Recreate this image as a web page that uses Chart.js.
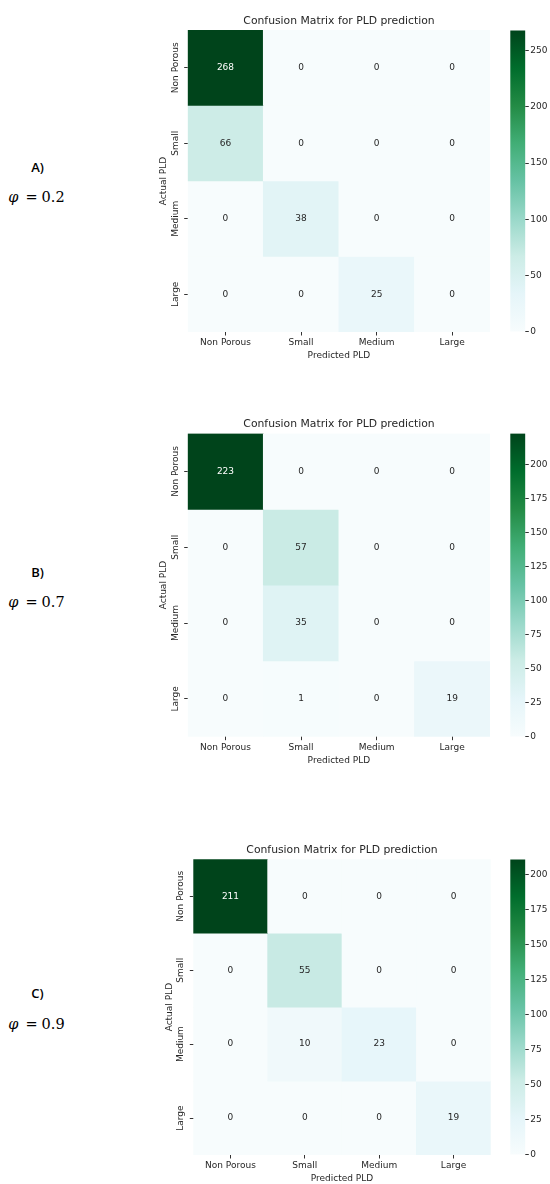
<!DOCTYPE html>
<html>
<head>
<meta charset="utf-8">
<script src="https://cdn.jsdelivr.net/npm/chart.js@4.4.1/dist/chart.umd.min.js"></script>
<style>
  html, body { margin: 0; padding: 0; background: #fff; }
  body { position: relative; width: 550px; height: 1184px; overflow: hidden; }
  canvas { position: absolute; }
  .tag { position: absolute; width: 30px; text-align: center; font-family: "Open Sans", sans-serif; font-weight: 600; font-size: 13px; line-height: 16px; color: #000; }
  .phi { position: absolute; white-space: nowrap; font-family: "DejaVu Serif", serif; font-size: 14.5px; line-height: 16px; color: #000; }
  .phi i { font-style: italic; }
  .phi .eq { display: inline-block; margin: 0 4px 0 7px; }
</style>
</head>
<body>
<script>
// ---- data ----
const predictedLabels = ['Non Porous', 'Small', 'Medium', 'Large'];
const actualLabels = ['Non Porous', 'Small', 'Medium', 'Large'];

const matrixA = [[268, 0, 0, 0], [66, 0, 0, 0], [0, 38, 0, 0], [0, 0, 25, 0]];
const matrixB = [[223, 0, 0, 0], [0, 57, 0, 0], [0, 35, 0, 0], [0, 1, 0, 19]];
const matrixC = [[211, 0, 0, 0], [0, 55, 0, 0], [0, 10, 23, 0], [0, 0, 0, 19]];

const colorbarStepA = 50;
const colorbarStepB = 25;
const colorbarStepC = 25;

const panelTags = ['A)', 'B)', 'C)'];
const phiValues = ['0.2', '0.7', '0.9'];

const chartTitle = 'Confusion Matrix for PLD prediction';
const xTitle = 'Predicted PLD';
const yTitle = 'Actual PLD';

// ---- layout (page pixels) ----
const panels = [
  { matrix: matrixA, step: colorbarStepA, area: { left: 187.7, right: 490, top: 30, bottom: 332 }, tagY: 166.7, phiY: 197 },
  { matrix: matrixB, step: colorbarStepB, area: { left: 187.7, right: 490, top: 433.5, bottom: 736.7 }, tagY: 571.7, phiY: 602 },
  { matrix: matrixC, step: colorbarStepC, area: { left: 193.3, right: 490.7, top: 859.3, bottom: 1155 }, tagY: 993, phiY: 1024 }
];
const CB_LEFT = 510.3, CB_RIGHT = 525.3;

const FONT = "'DejaVu Sans', sans-serif";
const INK = '#262626';
const TICK_INK = '#333';
const TICK_LEN = 3.5;

// BuGn colour ramp
const BUGN = ['#f7fcfd', '#e5f5f9', '#ccece6', '#99d8c9', '#66c2a4', '#41ae76', '#238b45', '#006d2c', '#00441b'];
const hexRgb = h => [1, 3, 5].map(i => parseInt(h.slice(i, i + 2), 16));
function cmapRgb(t) {
  t = Math.max(0, Math.min(1, t));
  const p = t * (BUGN.length - 1);
  const i = Math.min(Math.floor(p), BUGN.length - 2);
  const f = p - i;
  const a = hexRgb(BUGN[i]), b = hexRgb(BUGN[i + 1]);
  return a.map((v, k) => v + (b[k] - v) * f);
}
const rgbStr = c => `rgb(${c.map(v => Math.round(v)).join(',')})`;
function luminance(c) {
  const lin = c.map(v => { v /= 255; return v <= 0.03928 ? v / 12.92 : Math.pow((v + 0.055) / 1.055, 2.4); });
  return 0.2126 * lin[0] + 0.7152 * lin[1] + 0.0722 * lin[2];
}
const crisp = v => Math.round(v - 0.5) + 0.5;

// short tick marks for a scale, placed on the side facing its labels
function drawTickMarks(ctx, scale, side, edge) {
  ctx.save();
  ctx.strokeStyle = TICK_INK;
  ctx.lineWidth = 1;
  ctx.beginPath();
  scale.ticks.forEach((t, i) => {
    const p = crisp(scale.getPixelForTick(i));
    if (side === 'bottom') { ctx.moveTo(p, edge); ctx.lineTo(p, edge + TICK_LEN); }
    else if (side === 'left') { ctx.moveTo(edge - TICK_LEN, p); ctx.lineTo(edge, p); }
    else { ctx.moveTo(edge, p); ctx.lineTo(edge + TICK_LEN, p); }
  });
  ctx.stroke();
  ctx.restore();
}

function makeHeatmap(matrix, area) {
  const vmax = Math.max(...matrix.flat());
  const areaW = area.right - area.left;
  const L = Math.floor(area.left - 40);
  const yW = area.left - L;
  const W = Math.round(2 * yW + areaW);
  const rightW = W - yW - areaW;
  const T = Math.floor(area.top - 32);
  const titleH = area.top - T;
  const H = Math.ceil(area.bottom + 30) - T;
  const xH = H - (area.bottom - T);
  const titleLine = 10.8 * 1.2;
  const tb = 9 - titleLine / 2;
  const tt = titleH - titleLine - tb;

  const cv = document.createElement('canvas');
  cv.width = W; cv.height = H;
  cv.style.left = L + 'px'; cv.style.top = T + 'px';
  cv.style.width = W + 'px'; cv.style.height = H + 'px';
  document.body.appendChild(cv);

  // tick marks and rotated row labels
  const axisDecor = {
    id: 'axisDecor',
    afterDraw(chart) {
      const { ctx, chartArea } = chart;
      const ys = chart.scales.y;
      drawTickMarks(ctx, chart.scales.x, 'bottom', chartArea.bottom);
      drawTickMarks(ctx, ys, 'left', chartArea.left);
      ctx.save();
      ctx.font = `9px ${FONT}`;
      ctx.fillStyle = INK;
      ctx.textAlign = 'center';
      ctx.textBaseline = 'middle';
      actualLabels.forEach((lab, i) => {
        ctx.save();
        ctx.translate(chartArea.left - 12.5, ys.getPixelForValue(i + 0.5));
        ctx.rotate(-Math.PI / 2);
        ctx.fillText(lab, 0, 0);
        ctx.restore();
      });
      ctx.restore();
    }
  };

  // value annotation in each cell
  const cellText = {
    id: 'cellText',
    afterDatasetsDraw(chart) {
      const { ctx } = chart;
      ctx.save();
      ctx.font = `9px ${FONT}`;
      ctx.textAlign = 'center';
      ctx.textBaseline = 'middle';
      matrix.forEach((row, r) => {
        const meta = chart.getDatasetMeta(r);
        meta.data.forEach((el, c) => {
          const v = row[c];
          const { x, y, base } = el.getProps(['x', 'y', 'base'], true);
          ctx.fillStyle = luminance(cmapRgb(v / vmax)) > 0.408 ? INK : '#ffffff';
          ctx.fillText(String(v), x, (y + base) / 2);
        });
      });
      ctx.restore();
    }
  };

  new Chart(cv, {
    type: 'bar',
    data: {
      labels: predictedLabels,
      datasets: matrix.map((row, r) => ({
        label: actualLabels[r],
        data: row.map(() => [r, r + 1]),
        backgroundColor: row.map(v => rgbStr(cmapRgb(v / vmax))),
        borderWidth: 0,
        barPercentage: 1,
        categoryPercentage: 1,
        grouped: false
      }))
    },
    options: {
      responsive: false,
      animation: false,
      devicePixelRatio: 1,
      layout: { padding: 0 },
      plugins: {
        legend: { display: false },
        tooltip: { enabled: false },
        title: {
          display: true, text: chartTitle, color: INK,
          font: { family: FONT, size: 10.8, weight: 'normal', lineHeight: 1.2 },
          padding: { top: tt, bottom: tb }
        }
      },
      scales: {
        x: {
          type: 'category', position: 'bottom', offset: true,
          grid: { display: false, drawTicks: false }, border: { display: false },
          ticks: { font: { family: FONT, size: 9 }, color: INK, padding: 5.5, minRotation: 0, maxRotation: 0, autoSkip: false },
          title: { display: true, text: xTitle, color: INK, font: { family: FONT, size: 9 }, padding: { top: 0, bottom: 1.3 } },
          afterFit: s => { s.height = xH; }
        },
        y: {
          type: 'linear', position: 'left', min: 0, max: 4, reverse: true,
          afterBuildTicks: s => { s.ticks = actualLabels.map((_, i) => ({ value: i + 0.5 })); },
          grid: { display: false, drawTicks: false }, border: { display: false },
          ticks: { display: false },
          title: { display: true, text: yTitle, color: INK, font: { family: FONT, size: 9 }, padding: { top: yW - 24 - 5.4, bottom: 0 } },
          afterFit: s => { s.width = yW; }
        },
        pad: {
          type: 'linear', position: 'right', display: true,
          grid: { display: false }, ticks: { display: false }, border: { display: false },
          afterFit: s => { s.width = rightW; }
        }
      }
    },
    plugins: [axisDecor, cellText]
  });
  return vmax;
}

function makeColorbar(vmax, step, area) {
  const CL = 500, CW = 50;
  const CT = Math.floor(area.top - 10);
  const CH = Math.ceil(area.bottom + 10) - CT;
  const cv = document.createElement('canvas');
  cv.width = CW; cv.height = CH;
  cv.style.left = CL + 'px'; cv.style.top = CT + 'px';
  cv.style.width = CW + 'px'; cv.style.height = CH + 'px';
  document.body.appendChild(cv);

  const cbTicks = {
    id: 'cbTicks',
    afterDraw(chart) { drawTickMarks(chart.ctx, chart.scales.y, 'right', chart.chartArea.right); }
  };

  new Chart(cv, {
    type: 'bar',
    data: {
      labels: [''],
      datasets: [{
        data: [[0, vmax]],
        borderWidth: 0,
        barPercentage: 1,
        categoryPercentage: 1,
        backgroundColor: c => {
          const a = c.chart.chartArea;
          if (!a) return BUGN[4];
          const g = c.chart.ctx.createLinearGradient(0, a.bottom, 0, a.top);
          BUGN.forEach((col, k) => g.addColorStop(k / (BUGN.length - 1), col));
          return g;
        }
      }]
    },
    options: {
      responsive: false,
      animation: false,
      devicePixelRatio: 1,
      layout: { padding: { left: CB_LEFT - CL, right: 0, top: area.top - CT, bottom: CT + CH - area.bottom } },
      plugins: { legend: { display: false }, tooltip: { enabled: false }, title: { display: false } },
      scales: {
        x: { display: false },
        y: {
          type: 'linear', position: 'right', min: 0, max: vmax,
          grid: { display: false, drawTicks: false },
          border: { display: false },
          ticks: { stepSize: step, includeBounds: false, font: { family: FONT, size: 9 }, color: INK, padding: 5 },
          afterFit: s => { s.width = CW - (CB_RIGHT - CL); }
        }
      }
    },
    plugins: [cbTicks]
  });
}

panels.forEach((p, i) => {
  const vmax = makeHeatmap(p.matrix, p.area);
  makeColorbar(vmax, p.step, p.area);

  const tag = document.createElement('div');
  tag.className = 'tag';
  tag.textContent = panelTags[i];
  tag.style.left = (37.5 - 15) + 'px';
  tag.style.top = (p.tagY - 8) + 'px';
  document.body.appendChild(tag);

  const phi = document.createElement('div');
  phi.className = 'phi';
  phi.style.left = '8.3px';
  phi.style.top = (p.phiY - 8) + 'px';
  phi.innerHTML = '<i>φ</i><span class="eq">=</span>' + phiValues[i];
  document.body.appendChild(phi);
});
</script>
</body>
</html>
